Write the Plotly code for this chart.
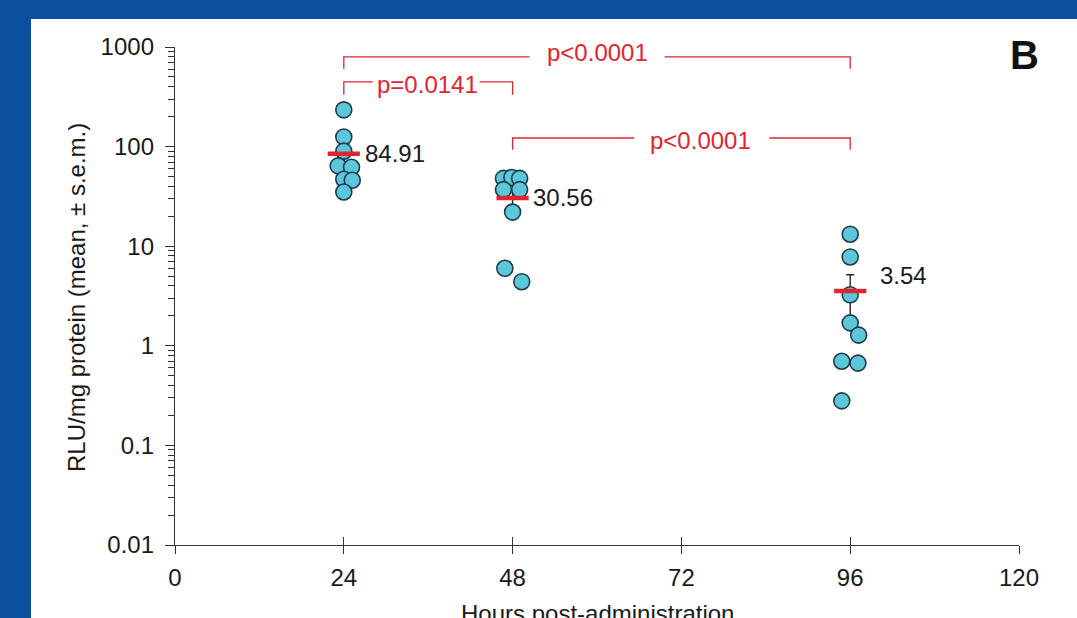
import numpy as np
import plotly.graph_objects as go

# ---------------- data ----------------
hours = [24, 48, 96]
means = [84.91, 30.56, 3.54]
sems = [23.0, 6.0, 1.62]
mean_labels = ["84.91", "30.56", "3.54"]
label_x = [26.7, 50.6, 99.9]
label_y = [84.91, 30.56, 5.1]

pts24_x = [24.0, 24.0, 24.0, 23.2, 25.1, 24.0, 25.2, 24.0]
pts24_y = [234, 125, 90, 64, 62, 47, 46, 35]
pts48_x = [46.7, 47.9, 49.0, 46.7, 49.0, 48.0, 46.9, 49.3]
pts48_y = [48, 49, 48, 37, 37, 22, 6.0, 4.4]
pts96_x = [96.0, 96.0, 96.0, 96.0, 97.2, 94.8, 97.1, 94.8]
pts96_y = [13.2, 7.8, 3.25, 1.70, 1.28, 0.70, 0.67, 0.28]

x_ticks = [0, 24, 48, 72, 96, 120]
y_ticks = [0.01, 0.1, 1, 10, 100, 1000]
y_ticktext = ["0.01", "0.1", "1", "10", "100", "1000"]

# significance brackets: x0, x1, level, drop, label, label x, label y, gap start, gap end
br_x0 = [24, 24, 48]
br_x1 = [96, 48, 96]
br_level = [797, 447, 122]
br_drop = [604, 331, 93]
br_label = ["p<0.0001", "p=0.0141", "p<0.0001"]
br_label_x = [60.0, 35.9, 74.7]
br_label_y = [890, 420, 114]
br_gap0 = [50.4, 28.1, 65.3]
br_gap1 = [69.6, 43.3, 84.5]

FONT = "Liberation Sans, Arial, sans-serif"
RED = "#e2242f"
BLUE_BG = "#0b4f9e"
CYAN = "#5cc6db"
EDGE = "#1e3b4a"

fig = go.Figure()

# brackets (lines)
for i in range(len(br_x0)):
    fig.add_trace(go.Scatter(
        x=[br_x0[i], br_x0[i], br_gap0[i], None, br_gap1[i], br_x1[i], br_x1[i]],
        y=[br_drop[i], br_level[i], br_level[i], None, br_level[i], br_level[i], br_drop[i]],
        mode="lines", line=dict(color=RED, width=1.3),
        hoverinfo="skip", showlegend=False, cliponaxis=False))

# error bars (beneath points)
fig.add_trace(go.Scatter(
    x=hours, y=means, mode="markers",
    marker=dict(size=1, color="rgba(0,0,0,0)"),
    error_y=dict(type="data", array=sems, color="#222222", thickness=1.4, width=4),
    showlegend=False, hoverinfo="skip"))

# individual points
for xs, ys in [(pts24_x, pts24_y), (pts48_x, pts48_y), (pts96_x, pts96_y)]:
    fig.add_trace(go.Scatter(
        x=xs, y=ys, mode="markers",
        marker=dict(size=16, color=CYAN, line=dict(color=EDGE, width=1.6)),
        showlegend=False))

# mean bars
fig.add_trace(go.Scatter(
    x=hours, y=means, mode="markers",
    marker=dict(symbol="line-ew", size=23, line=dict(color=RED, width=4.5)),
    showlegend=False))

# dummy trace for crossing-tick overlay axis
fig.add_trace(go.Scatter(x=[None], y=[None], xaxis="x2", showlegend=False))

# mean labels
for i in range(len(hours)):
    fig.add_annotation(x=label_x[i], y=np.log10(label_y[i]), text=mean_labels[i],
                       xanchor="left", yanchor="middle", showarrow=False,
                       font=dict(family=FONT, size=24, color="#1a1a1a"))

# bracket labels
for i in range(len(br_label)):
    fig.add_annotation(x=br_label_x[i], y=np.log10(br_label_y[i]), text=br_label[i],
                       xanchor="center", yanchor="middle", showarrow=False,
                       font=dict(family=FONT, size=24, color=RED))

# axis titles and panel letter
fig.add_annotation(xref="paper", yref="paper", x=-0.1161, y=0.496,
                   text="RLU/mg protein (mean, ± s.e.m.)", textangle=-90,
                   showarrow=False, xanchor="center", yanchor="middle",
                   font=dict(family=FONT, size=24, color="#1a1a1a"))
fig.add_annotation(xref="paper", yref="paper", x=0.5, y=-0.106,
                   text="Hours post-administration", showarrow=False,
                   xanchor="center", yanchor="top",
                   font=dict(family=FONT, size=24, color="#1a1a1a"))
fig.add_annotation(xref="paper", yref="paper", x=1.007, y=0.984,
                   text="<b>B</b>", showarrow=False,
                   xanchor="center", yanchor="middle",
                   font=dict(family=FONT, size=40, color="#111111"))

# white panel on blue frame
fig.add_shape(type="rect", xref="paper", yref="paper",
              x0=-0.1706, x1=1.2, y0=-0.3, y1=1.0562,
              fillcolor="white", line=dict(width=0), layer="below")

minor_vals = [k * 10.0 ** e for e in range(-2, 3) for k in range(2, 10)]

fig.update_layout(
    width=1077, height=618,
    margin=dict(l=175, r=58, t=47, b=73),
    paper_bgcolor=BLUE_BG, plot_bgcolor="white",
    font=dict(family=FONT, size=24, color="#1a1a1a"),
    xaxis=dict(range=[0, 120], tickvals=x_ticks, ticks="outside", ticklen=8,
               tickwidth=1.4, tickcolor="#333333", showline=True, linecolor="#333333",
               linewidth=1.4, showgrid=False, zeroline=False,
               tickfont=dict(family=FONT, size=24, color="#1a1a1a"),
               ticklabelstandoff=3),
    xaxis2=dict(range=[0, 120], overlaying="x", anchor="y", side="bottom",
                tickvals=x_ticks, ticks="inside", ticklen=8, tickwidth=1.4,
                tickcolor="#333333", showticklabels=False, showline=False,
                showgrid=False, zeroline=False),
    yaxis=dict(type="log", range=[-2, 3], tickvals=y_ticks, ticktext=y_ticktext,
               ticks="outside", ticklen=9, tickwidth=1.4, tickcolor="#333333",
               showline=True, linecolor="#333333", linewidth=1.4,
               showgrid=False, zeroline=False,
               minor=dict(tickvals=minor_vals, ticks="outside", ticklen=6,
                          tickwidth=1.2, tickcolor="#333333", showgrid=False),
               tickfont=dict(family=FONT, size=24, color="#1a1a1a"),
               ticklabelstandoff=6),
)

fig.write_html("out.html", config={"displayModeBar": False},
               post_script="document.body.style.margin='0';document.body.style.overflow='hidden';")
